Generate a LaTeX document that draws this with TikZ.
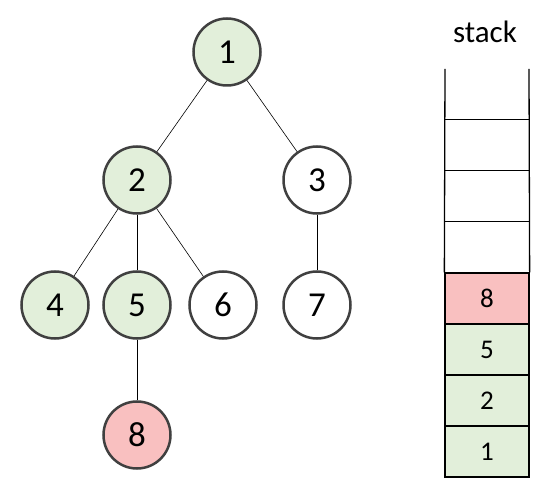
\documentclass[tikz,border=0pt]{standalone}
\usepackage{fontspec}
\setmainfont{Carlito}
\usetikzlibrary{calc}

\definecolor{visitgreen}{HTML}{E2EFDA}
\definecolor{toppink}{HTML}{F9C0C0}
\definecolor{ringgray}{HTML}{404040}

\tikzset{
  vertex/.style={circle, draw=ringgray, line width=2.5pt, minimum size=67pt,
    inner sep=0pt, font=\fontsize{35}{40}\selectfont},
  seen/.style={vertex, fill=visitgreen},
  cur/.style={vertex, fill=toppink},
  cell/.style={rectangle, draw=black, line width=1.3pt, minimum width=84pt,
    minimum height=51pt, inner sep=0pt, font=\fontsize{27}{32}\selectfont},
  edge/.style={line width=0.6pt}
}

\begin{document}
\begin{tikzpicture}[x=1pt, y=-1pt]
    \useasboundingbox (0,0) rectangle (536,481);

    % tree
    \node[seen] (n1) at (227,52) {1};
    \node[seen] (n2) at (137,180) {2};
    \node[vertex] (n3) at (317,180) {3};
    \node[seen] (n4) at (55,305) {4};
    \node[seen] (n5) at (137,305) {5};
    \node[vertex] (n6) at (223,305) {6};
    \node[vertex] (n7) at (317,305) {7};
    \node[cur] (n8) at (137,435) {8};

    \draw[edge] (n1) -- (n2);
    \draw[edge] (n1) -- (n3);
    \draw[edge] (n2) -- (n4);
    \draw[edge] (n2) -- (n5);
    \draw[edge] (n2) -- (n6);
    \draw[edge] (n3) -- (n7);
    \draw[edge] (n5) -- (n8);

    % stack
    \node[font=\fontsize{31}{36}\selectfont] (title) at (485,32) {stack};
    \node[cell, fill=visitgreen] (s1) at (487,451.5) {1};
    \node[cell, fill=visitgreen] (s2) at (487,400.5) {2};
    \node[cell, fill=visitgreen] (s5) at (487,349.5) {5};
    \node[cell, fill=toppink] (s8) at (487,298.5) {8};
    \coordinate (topl) at (445,69);
    \coordinate (topr) at (529,69);
    \draw[line width=1.3pt] (topl) -- (s8.north west);
    \draw[line width=1.3pt] (topr) -- (s8.north east);
    \foreach \k in {1,2,3}
        \draw[line width=1.3pt] ($(s8.north west)+(0,-\k*51)$) -- ($(s8.north east)+(0,-\k*51)$);
\end{tikzpicture}
\end{document}
